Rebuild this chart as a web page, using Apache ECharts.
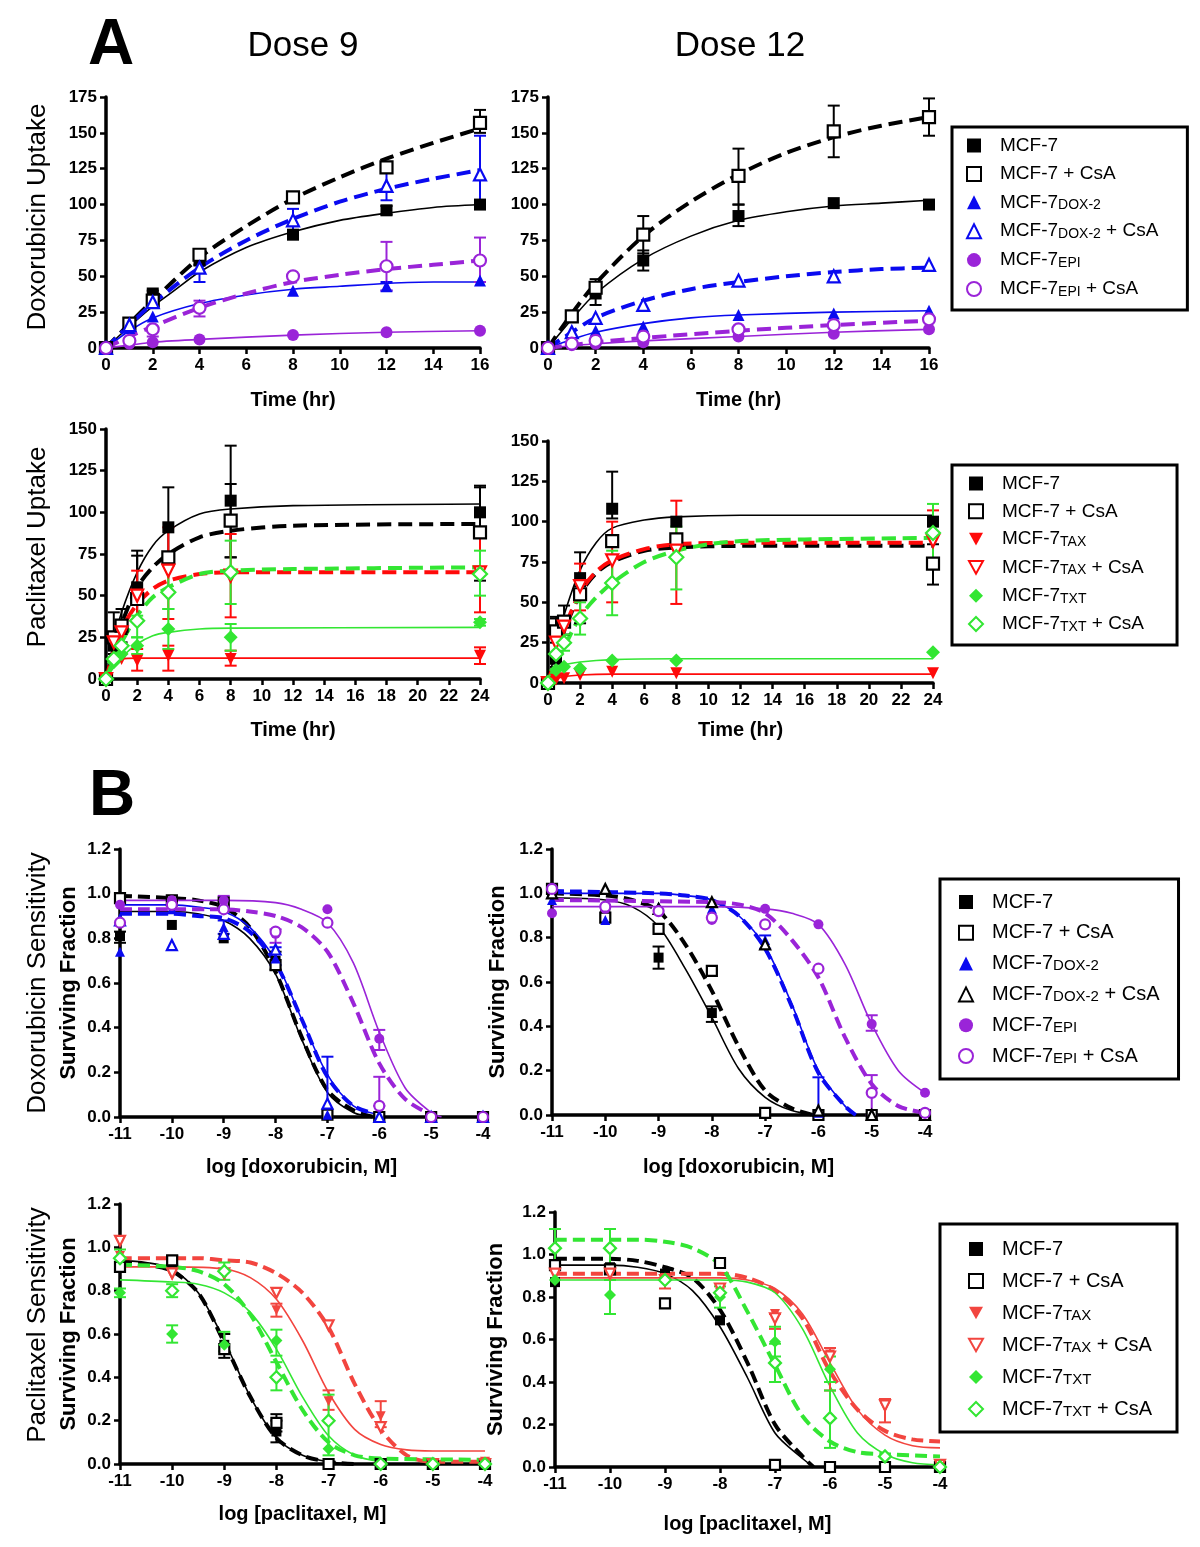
<!DOCTYPE html>
<html><head><meta charset="utf-8">
<script src="https://cdn.jsdelivr.net/npm/echarts@6/dist/echarts.min.js"></script>
<style>html,body{margin:0;padding:0;background:#fff}#c{width:1200px;height:1547px}</style>
</head><body><div id="c"></div>
<script>
// ================= DATA =================
var timeDox = [0, 1, 2, 4, 8, 12, 16];
var timePac = [0, 0.5, 1, 2, 4, 8, 24];
var logDose = [-11, -10, -9, -8, -7, -6, -5, -4];

// ---- A1: Dose 9, doxorubicin uptake ----
var A1_mcf7 = [0, 17, 38, 61, 79, 96, 100];
var A1_mcf7_err = [[2, 33, 40], [4, 58, 66], [8, 76, 82], [12, 93, 99]];
var A1_mcf7_fit = [[0, 0], [1, 15], [2, 29], [3, 41], [4, 53], [6, 70], [8, 81], [10, 89], [12, 94], [14, 98], [16, 100]];
var A1_mcf7Csa = [0, 17, 33, 65, 105, 126, 157];
var A1_mcf7Csa_err = [[12, 122, 129], [16, 150, 166]];
var A1_mcf7Csa_fit = [[0, 0], [1, 17], [2, 33], [4, 63], [6, 85], [8, 104], [10, 119], [12, 132], [14, 143], [16, 153]];
var A1_dox2 = [0, 14, 22, 30, 40, 43, 47];
var A1_dox2_err = [[12, 40, 46]];
var A1_dox2_fit = [[0, 0], [1, 12], [2, 21], [4, 31], [6, 37], [8, 41], [10, 43], [12, 45], [14, 46], [16, 46]];
var A1_dox2Csa = [0, 16, 32, 56, 89, 113, 121];
var A1_dox2Csa_err = [[4, 46, 66], [8, 80, 97], [12, 103, 125], [16, 97, 148]];
var A1_dox2Csa_fit = [[0, 0], [1, 16], [2, 31], [4, 56], [6, 75], [8, 90], [10, 102], [12, 111], [14, 118], [16, 124]];
var A1_epi = [0, 3, 4, 6, 9, 11, 12];
var A1_epi_err = [];
var A1_epi_fit = [[0, 0], [1, 2], [2, 4], [4, 6], [8, 9], [12, 11], [16, 12]];
var A1_epiCsa = [0, 5, 13, 28, 50, 57, 61];
var A1_epiCsa_err = [[2, 8, 15], [4, 22, 33], [12, 40, 74], [16, 46, 77]];
var A1_epiCsa_fit = [[0, 0], [1, 8], [2, 15], [4, 28], [6, 38], [8, 46], [10, 51], [12, 55], [14, 58], [16, 61]];

// ---- A2: Dose 12, doxorubicin uptake ----
var A2_mcf7 = [0, 22, 38, 61, 92, 101, 100];
var A2_mcf7_err = [[2, 30, 48], [4, 54, 68], [8, 85, 100]];
var A2_mcf7_fit = [[0, 0], [1, 20], [2, 38], [4, 62], [6, 78], [8, 89], [10, 95], [12, 99], [14, 101], [16, 103]];
var A2_mcf7Csa = [0, 22, 42, 79, 120, 151, 161];
var A2_mcf7Csa_err = [[4, 66, 92], [8, 100, 139], [12, 133, 169], [16, 148, 174]];
var A2_mcf7Csa_fit = [[0, 0], [1, 24], [2, 45], [4, 78], [6, 102], [8, 121], [10, 136], [12, 147], [14, 155], [16, 161]];
var A2_dox2 = [0, 9, 12, 15, 23, 24, 26];
var A2_dox2_err = [];
var A2_dox2_fit = [[0, 0], [1, 6], [2, 11], [4, 17], [6, 21], [8, 23], [12, 25], [16, 26]];
var A2_dox2Csa = [0, 11, 21, 30, 47, 50, 58];
var A2_dox2Csa_err = [];
var A2_dox2Csa_fit = [[0, 0], [1, 11], [2, 21], [4, 33], [6, 41], [8, 46], [10, 50], [12, 53], [14, 55], [16, 56]];
var A2_epi = [0, 2, 3, 4, 8, 10, 13];
var A2_epi_err = [];
var A2_epi_fit = [[0, 0], [2, 3], [4, 5], [8, 8], [12, 11], [16, 13]];
var A2_epiCsa = [0, 3, 5, 8, 13, 16, 20];
var A2_epiCsa_err = [];
var A2_epiCsa_fit = [[0, 0], [2, 4], [4, 7], [8, 12], [12, 16], [16, 19]];

// ---- A3: Dose 9, paclitaxel uptake ----
var A3_mcf7 = [0, 20, 30, 55, 91, 107, 100];
var A3_mcf7_err = [[2, 45, 77], [4, 68, 115], [8, 73, 140], [24, 85, 116]];
var A3_mcf7_fit = [[0, 0], [0.5, 22], [1, 40], [2, 64], [3, 80], [4, 89], [6, 99], [8, 102], [12, 104], [24, 105]];
var A3_mcf7Csa = [0, 25, 32, 48, 73, 95, 88];
var A3_mcf7Csa_err = [[0.5, 15, 40], [1, 22, 42], [2, 35, 74], [8, 73, 117], [24, 59, 115]];
var A3_mcf7Csa_fit = [[0, 0], [0.5, 18], [1, 33], [2, 55], [3, 67], [4, 75], [6, 85], [8, 89], [12, 92], [24, 93]];
var A3_tax = [0, 10, 12, 11, 14, 12, 14];
var A3_tax_err = [[2, 5, 18], [4, 5, 20], [8, 8, 17], [24, 9, 19]];
var A3_tax_fit = [[0, 0], [0.5, 9], [1, 12], [2, 12.5], [24, 12.5]];
var A3_taxCsa = [0, 22, 28, 50, 65, 62, 64];
var A3_taxCsa_err = [[2, 35, 65], [4, 36, 91], [8, 37, 87], [24, 40, 87]];
var A3_taxCsa_fit = [[0, 0], [0.5, 17], [1, 30], [2, 45], [3, 54], [4, 59], [6, 63], [8, 64], [24, 64]];
var A3_txt = [0, 10, 15, 20, 30, 25, 34];
var A3_txt_err = [[2, 15, 25], [4, 18, 42], [8, 17, 33], [24, 32, 36]];
var A3_txt_fit = [[0, 0], [0.5, 7], [1, 13], [2, 21], [3, 26], [4, 28], [6, 30], [8, 30.5], [24, 31]];
var A3_txtCsa = [0, 12, 20, 35, 52, 64, 63];
var A3_txtCsa_err = [[2, 25, 38], [4, 42, 70], [8, 45, 83], [24, 50, 77]];
var A3_txtCsa_fit = [[0, 0], [0.5, 12], [1, 22], [2, 38], [3, 49], [4, 55], [6, 63], [8, 65], [12, 66], [24, 67]];

// ---- A4: Dose 12, paclitaxel uptake ----
var A4_mcf7 = [0, 15, 38, 65, 108, 100, 100];
var A4_mcf7_err = [[0.5, 10, 40], [2, 53, 81], [4, 102, 131]];
var A4_mcf7_fit = [[0, 0], [0.5, 22], [1, 42], [2, 70], [3, 87], [4, 96], [6, 101], [8, 103], [12, 104], [24, 104]];
var A4_mcf7Csa = [0, 32, 38, 55, 88, 89, 74];
var A4_mcf7Csa_err = [[0.5, 25, 41], [1, 30, 48], [2, 37, 60], [24, 61, 86]];
var A4_mcf7Csa_fit = [[0, 0], [0.5, 17], [1, 32], [2, 55], [3, 68], [4, 75], [6, 82], [8, 84], [12, 85], [24, 85]];
var A4_tax = [0, 2, 3, 5, 7, 6, 6];
var A4_tax_err = [];
var A4_tax_fit = [[0, 0], [0.5, 2.5], [1, 4], [2, 5], [4, 5.5], [24, 5.5]];
var A4_taxCsa = [0, 25, 35, 60, 76, 82, 88];
var A4_taxCsa_err = [[2, 45, 74], [4, 50, 100], [8, 49, 113], [24, 75, 107]];
var A4_taxCsa_fit = [[0, 0], [0.5, 17], [1, 33], [2, 56], [3, 69], [4, 76], [6, 83], [8, 86], [12, 87], [24, 87]];
var A4_txt = [0, 8, 10, 9, 14, 14, 19];
var A4_txt_err = [];
var A4_txt_fit = [[0, 0], [0.5, 7], [1, 11], [2, 13], [4, 14.5], [8, 15], [24, 15]];
var A4_txtCsa = [0, 18, 25, 40, 62, 78, 93];
var A4_txtCsa_err = [[1, 20, 30], [2, 30, 50], [4, 42, 82], [8, 58, 97], [24, 76, 111]];
var A4_txtCsa_fit = [[0, 0], [0.5, 12], [1, 22], [2, 41], [3, 53], [4, 62], [6, 75], [8, 82], [10, 86], [12, 88], [16, 89], [24, 90]];

// ---- B1: Dose 9, doxorubicin sensitivity ----
var B1_mcf7 = [0.81, 0.86, 0.80, 0.70, 0.01, 0.0, 0.0, 0.0];
var B1_mcf7_err = [[-11, 0.78, 0.83], [-8, 0.66, 0.74]];
var B1_mcf7_fit = [[-11, 0.92], [-10, 0.92], [-9.5, 0.91], [-9, 0.88], [-8.5, 0.80], [-8, 0.64], [-7.5, 0.35], [-7, 0.11], [-6.5, 0.02], [-6.1, 0]];
var B1_mcf7Csa = [0.98, 0.97, 0.96, 0.68, 0.01, 0.0, 0.0, 0.0];
var B1_mcf7Csa_err = [];
var B1_mcf7Csa_fit = [[-11, 0.99], [-10, 0.98], [-9.5, 0.97], [-9, 0.94], [-8.5, 0.85], [-8, 0.65], [-7.5, 0.36], [-7, 0.12], [-6.5, 0.03], [-6.1, 0]];
var B1_dox2 = [0.74, 0.93, 0.85, 0.71, 0.01, 0.0, 0.0, 0.0];
var B1_dox2_err = [[-9, 0.82, 0.88], [-8, 0.68, 0.76], [-7, 0.0, 0.27]];
var B1_dox2_fit = [[-11, 0.95], [-10, 0.95], [-9.5, 0.94], [-9, 0.92], [-8.5, 0.85], [-8, 0.70], [-7.5, 0.44], [-7, 0.19], [-6.5, 0.05], [-6, 0.01]];
var B1_dox2Csa = [0.88, 0.77, 0.82, 0.75, 0.06, 0.0, 0.0, 0.0];
var B1_dox2Csa_err = [];
var B1_dox2Csa_fit = [[-11, 0.91], [-10, 0.91], [-9.5, 0.90], [-9, 0.89], [-8.5, 0.83], [-8, 0.69], [-7.5, 0.44], [-7, 0.18], [-6.5, 0.05], [-6, 0.01]];
var B1_epi = [0.95, 0.97, 0.97, 0.82, 0.93, 0.35, 0.0, 0.0];
var B1_epi_err = [[-10, 0.95, 0.99], [-9, 0.95, 0.99], [-8, 0.78, 0.84], [-6, 0.30, 0.39]];
var B1_epi_fit = [[-11, 0.97], [-9, 0.97], [-8, 0.96], [-7.5, 0.93], [-7, 0.87], [-6.5, 0.69], [-6, 0.38], [-5.5, 0.13], [-5, 0.02], [-4.8, 0]];
var B1_epiCsa = [0.87, 0.95, 0.93, 0.83, 0.87, 0.05, 0.0, 0.0];
var B1_epiCsa_err = [[-6, 0.05, 0.18]];
var B1_epiCsa_fit = [[-11, 0.93], [-9, 0.93], [-8.5, 0.92], [-8, 0.90], [-7.5, 0.85], [-7, 0.74], [-6.5, 0.51], [-6, 0.24], [-5.5, 0.08], [-5, 0.01]];

// ---- B2: Dose 12, doxorubicin sensitivity ----
var B2_mcf7 = [1.0, 0.93, 0.71, 0.46, 0.01, 0.0, 0.0, 0.0];
var B2_mcf7_err = [[-9, 0.66, 0.76], [-8, 0.42, 0.49]];
var B2_mcf7_fit = [[-11, 0.98], [-10, 0.97], [-9.5, 0.94], [-9, 0.85], [-8.5, 0.66], [-8, 0.44], [-7.5, 0.21], [-7, 0.08], [-6.5, 0.02], [-6, 0]];
var B2_mcf7Csa = [1.02, 0.89, 0.84, 0.65, 0.01, 0.0, 0.0, 0.0];
var B2_mcf7Csa_err = [];
var B2_mcf7Csa_fit = [[-11, 1.0], [-10, 0.99], [-9.5, 0.97], [-9, 0.92], [-8.5, 0.77], [-8, 0.56], [-7.5, 0.31], [-7, 0.11], [-6.5, 0.03], [-6.1, 0]];
var B2_dox2 = [0.97, 0.88, 0.94, 0.93, 0.79, 0.01, 0.0, 0.0];
var B2_dox2_err = [[-7, 0.75, 0.81], [-6, 0.0, 0.17]];
var B2_dox2_fit = [[-11, 1.0], [-9, 1.0], [-8.5, 0.99], [-8, 0.97], [-7.5, 0.90], [-7, 0.76], [-6.5, 0.50], [-6, 0.20], [-5.5, 0.04], [-5.3, 0]];
var B2_dox2Csa = [1.0, 1.02, 0.93, 0.96, 0.77, 0.02, 0.0, 0.0];
var B2_dox2Csa_err = [];
var B2_dox2Csa_fit = [[-11, 1.01], [-9, 1.0], [-8.5, 0.99], [-8, 0.97], [-7.5, 0.90], [-7, 0.75], [-6.5, 0.49], [-6, 0.19], [-5.5, 0.04], [-5.3, 0]];
var B2_epi = [0.91, 0.93, 0.92, 0.88, 0.93, 0.86, 0.41, 0.10];
var B2_epi_err = [[-5, 0.38, 0.45]];
var B2_epi_fit = [[-11, 0.94], [-8, 0.94], [-7, 0.93], [-6.5, 0.91], [-6, 0.86], [-5.5, 0.68], [-5, 0.41], [-4.5, 0.20], [-4, 0.10]];
var B2_epiCsa = [1.02, 0.94, 0.92, 0.89, 0.86, 0.66, 0.10, 0.01];
var B2_epiCsa_err = [[-5, 0.0, 0.18]];
var B2_epiCsa_fit = [[-11, 0.97], [-8, 0.96], [-7.5, 0.95], [-7, 0.91], [-6.5, 0.79], [-6, 0.62], [-5.5, 0.35], [-5, 0.14], [-4.5, 0.04], [-4, 0.01]];

// ---- B3: Dose 9, paclitaxel sensitivity ----
var B3_mcf7 = [0.91, 0.93, 0.55, 0.15, 0.0, 0.0, 0.0, 0.0];
var B3_mcf7_err = [[-9, 0.49, 0.60], [-8, 0.10, 0.20]];
var B3_mcf7_fit = [[-11, 0.94], [-10.5, 0.93], [-10, 0.90], [-9.5, 0.79], [-9, 0.57], [-8.5, 0.31], [-8, 0.12], [-7.5, 0.04], [-7, 0.01], [-6.5, 0]];
var B3_mcf7Csa = [0.91, 0.94, 0.53, 0.19, 0.0, 0.0, 0.0, 0.0];
var B3_mcf7Csa_err = [[-10, 0.92, 0.96], [-8, 0.15, 0.23]];
var B3_mcf7Csa_fit = [[-11, 0.93], [-10.5, 0.92], [-10, 0.89], [-9.5, 0.79], [-9, 0.56], [-8.5, 0.31], [-8, 0.12], [-7.5, 0.04], [-7, 0.01], [-6.5, 0]];
var B3_tax = [0.96, 0.87, 0.87, 0.71, 0.29, 0.22, 0.0, 0.01];
var B3_tax_err = [[-8, 0.68, 0.74], [-7, 0.25, 0.34], [-6, 0.17, 0.29]];
var B3_tax_fit = [[-11, 0.91], [-10, 0.91], [-9, 0.90], [-8.5, 0.86], [-8, 0.76], [-7.5, 0.57], [-7, 0.33], [-6.5, 0.16], [-6, 0.09], [-5.5, 0.065], [-5, 0.06], [-4, 0.06]];
var B3_taxCsa = [1.03, 0.88, 0.88, 0.79, 0.64, 0.17, 0.0, 0.0];
var B3_taxCsa_err = [];
var B3_taxCsa_fit = [[-11, 0.95], [-9.5, 0.95], [-9, 0.94], [-8.5, 0.93], [-8, 0.88], [-7.5, 0.79], [-7, 0.63], [-6.5, 0.37], [-6, 0.16], [-5.5, 0.04], [-5, 0.01], [-4, 0.01]];
var B3_txt = [0.79, 0.60, 0.55, 0.57, 0.07, 0.0, 0.0, 0.0];
var B3_txt_err = [[-11, 0.77, 0.81], [-10, 0.56, 0.64], [-9, 0.52, 0.61], [-8, 0.50, 0.62]];
var B3_txt_fit = [[-11, 0.85], [-10, 0.84], [-9.5, 0.83], [-9, 0.79], [-8.5, 0.70], [-8, 0.53], [-7.5, 0.31], [-7, 0.13], [-6.5, 0.04], [-6, 0.01]];
var B3_txtCsa = [0.95, 0.80, 0.89, 0.40, 0.20, 0.0, 0.0, 0.0];
var B3_txtCsa_err = [[-11, 0.90, 0.99], [-10, 0.77, 0.83], [-9, 0.85, 0.93], [-8, 0.34, 0.47], [-7, 0.04, 0.32]];
var B3_txtCsa_fit = [[-11, 0.92], [-10, 0.91], [-9.5, 0.89], [-9, 0.83], [-8.5, 0.69], [-8, 0.47], [-7.5, 0.25], [-7, 0.10], [-6.5, 0.04], [-6, 0.025], [-4, 0.02]];

// ---- B4: Dose 12, paclitaxel sensitivity ----
var B4_mcf7 = [0.87, 0.94, 0.91, 0.69, 0.01, 0.0, 0.0, 0.0];
var B4_mcf7_err = [];
var B4_mcf7_fit = [[-11, 0.95], [-10, 0.95], [-9.5, 0.94], [-9, 0.91], [-8.5, 0.83], [-8, 0.66], [-7.5, 0.42], [-7, 0.16], [-6.5, 0.04], [-6.3, 0]];
var B4_mcf7Csa = [0.95, 0.93, 0.77, 0.96, 0.01, 0.0, 0.0, 0.0];
var B4_mcf7Csa_err = [];
var B4_mcf7Csa_fit = [[-11, 0.98], [-10, 0.98], [-9.5, 0.97], [-9, 0.94], [-8.5, 0.89], [-8, 0.74], [-7.5, 0.49], [-7, 0.20], [-6.5, 0.05], [-6.3, 0]];
var B4_tax = [0.90, 0.90, 0.89, 0.82, 0.72, 0.53, 0.28, 0.0];
var B4_tax_err = [[-9, 0.84, 0.89], [-7, 0.65, 0.72], [-6, 0.36, 0.56], [-5, 0.21, 0.32]];
var B4_tax_fit = [[-11, 0.89], [-8, 0.89], [-7.5, 0.88], [-7, 0.84], [-6.5, 0.72], [-6, 0.49], [-5.5, 0.27], [-5, 0.15], [-4.5, 0.10], [-4, 0.09]];
var B4_taxCsa = [0.91, 0.91, 0.88, 0.84, 0.70, 0.52, 0.29, 0.01];
var B4_taxCsa_err = [];
var B4_taxCsa_fit = [[-11, 0.91], [-8, 0.91], [-7.5, 0.89], [-7, 0.83], [-6.5, 0.70], [-6, 0.45], [-5.5, 0.27], [-5, 0.17], [-4.5, 0.13], [-4, 0.12]];
var B4_txt = [0.88, 0.81, 0.88, 0.80, 0.59, 0.46, 0.05, 0.0];
var B4_txt_err = [[-10, 0.72, 0.88], [-8, 0.75, 0.85], [-7, 0.52, 0.66], [-6, 0.40, 0.52]];
var B4_txt_fit = [[-11, 0.88], [-8, 0.88], [-7.5, 0.87], [-7, 0.82], [-6.5, 0.65], [-6, 0.38], [-5.5, 0.16], [-5, 0.06], [-4.5, 0.02], [-4, 0.01]];
var B4_txtCsa = [1.03, 1.03, 0.88, 0.82, 0.49, 0.23, 0.05, 0.0];
var B4_txtCsa_err = [[-11, 0.95, 1.12], [-10, 0.95, 1.12], [-7, 0.40, 0.58], [-6, 0.09, 0.36]];
var B4_txtCsa_fit = [[-11, 1.07], [-9.5, 1.07], [-9, 1.06], [-8.5, 1.03], [-8, 0.95], [-7.5, 0.73], [-7, 0.48], [-6.5, 0.24], [-6, 0.12], [-5.5, 0.07], [-5, 0.06], [-4, 0.05]];

// text
var LABELS = {
  mcf7: '{n|MCF-7}', mcf7Csa: '{n|MCF-7 + CsA}',
  dox2: '{n|MCF-7}{s|DOX-2}', dox2Csa: '{n|MCF-7}{s|DOX-2}{n| + CsA}',
  epi: '{n|MCF-7}{s|EPI}', epiCsa: '{n|MCF-7}{s|EPI}{n| + CsA}',
  tax: '{n|MCF-7}{s|TAX}', taxCsa: '{n|MCF-7}{s|TAX}{n| + CsA}',
  txt: '{n|MCF-7}{s|TXT}', txtCsa: '{n|MCF-7}{s|TXT}{n| + CsA}'
};

// ================= STYLE / LAYOUT =================
var FONT = "'Liberation Sans', Arial, Helvetica, sans-serif";
var BLACK = '#000000', BLUE = '#0a0af0', PURPLE = '#9a24d8', RED = '#ff0a0a', REDB = '#f2453f', GREEN = '#33e633';
var SYM = { sq: 'rect', tri: 'triangle', dtri: 'path://M0,0L10,0L5,9Z', dia: 'diamond', cir: 'circle' };
var SIZES = {
  A: { sym: 12, dashW: 4, dash: [14, 7], solidW: 1.6, cap: 6, errW: 2 },
  B: { sym: 10, dashW: 4, dash: [12, 6], solidW: 1.6, cap: 6, errW: 2 }
};
var GRIDS = [
  { left: 106, top: 97, width: 374, height: 251 },
  { left: 548, top: 97, width: 381, height: 251 },
  { left: 106, top: 429, width: 374, height: 250 },
  { left: 548, top: 441, width: 385, height: 242 },
  { left: 120, top: 849, width: 363, height: 268 },
  { left: 552, top: 849, width: 373, height: 266 },
  { left: 120, top: 1204, width: 365, height: 260 },
  { left: 555, top: 1212, width: 385, height: 255 }
];

function pick(p, k) {
  return { ys: window[p + '_' + k], err: window[p + '_' + k + '_err'] || [], fit: window[p + '_' + k + '_fit'] };
}
function doxSet(p, c2b) {
  return [
    { k: 'mcf7', c: BLACK, sym: 'sq', open: false, dash: false },
    { k: 'mcf7Csa', c: BLACK, sym: 'sq', open: true, dash: true },
    { k: 'dox2', c: BLUE, sym: 'tri', open: false, dash: false },
    { k: 'dox2Csa', c: c2b || BLUE, lc: BLUE, sym: 'tri', open: true, dash: true },
    { k: 'epi', c: PURPLE, sym: 'cir', open: false, dash: false },
    { k: 'epiCsa', c: PURPLE, sym: 'cir', open: true, dash: true }
  ].map(s => Object.assign(s, pick(p, s.k)));
}
function pacSet(p, red) {
  return [
    { k: 'mcf7', c: BLACK, sym: 'sq', open: false, dash: false },
    { k: 'mcf7Csa', c: BLACK, sym: 'sq', open: true, dash: true },
    { k: 'tax', c: red, sym: 'dtri', open: false, dash: false },
    { k: 'taxCsa', c: red, sym: 'dtri', open: true, dash: true },
    { k: 'txt', c: GREEN, sym: 'dia', open: false, dash: false },
    { k: 'txtCsa', c: GREEN, sym: 'dia', open: true, dash: true }
  ].map(s => Object.assign(s, pick(p, s.k)));
}

var PANELS = [
  { id: 'A1', xs: timeDox, sz: 'A', set: doxSet('A1') },
  { id: 'A2', xs: timeDox, sz: 'A', set: doxSet('A2') },
  { id: 'A3', xs: timePac, sz: 'A', set: pacSet('A3', RED) },
  { id: 'A4', xs: timePac, sz: 'A', set: pacSet('A4', RED) },
  { id: 'B1', xs: logDose, sz: 'B', set: doxSet('B1') },
  { id: 'B2', xs: logDose, sz: 'B', set: doxSet('B2', BLACK) },
  { id: 'B3', xs: logDose, sz: 'B', set: pacSet('B3', REDB) },
  { id: 'B4', xs: logDose, sz: 'B', set: pacSet('B4', REDB) }
];

var AXIS_X = [
  { min: 0, max: 16, interval: 2, name: 'Time (hr)', gap: 42 },
  { min: 0, max: 16, interval: 2, name: 'Time (hr)', gap: 42 },
  { min: 0, max: 24, interval: 2, name: 'Time (hr)', gap: 41 },
  { min: 0, max: 24, interval: 2, name: 'Time (hr)', gap: 37 },
  { min: -11, max: -4, interval: 1, name: 'log [doxorubicin, M]', gap: 40 },
  { min: -11, max: -4, interval: 1, name: 'log [doxorubicin, M]', gap: 42 },
  { min: -11, max: -4, interval: 1, name: 'log [paclitaxel, M]', gap: 40 },
  { min: -11, max: -4, interval: 1, name: 'log [paclitaxel, M]', gap: 47 }
];
var AXIS_Y = [
  { min: 0, max: 175, interval: 25 },
  { min: 0, max: 175, interval: 25 },
  { min: 0, max: 150, interval: 25 },
  { min: 0, max: 150, interval: 25 },
  { min: 0, max: 1.2, interval: 0.2, name: 'Surviving Fraction', gap: 40 },
  { min: 0, max: 1.2, interval: 0.2, name: 'Surviving Fraction', gap: 43 },
  { min: 0, max: 1.2, interval: 0.2, name: 'Surviving Fraction', gap: 40 },
  { min: 0, max: 1.2, interval: 0.2, name: 'Surviving Fraction', gap: 48 }
];

function axisCommon() {
  return {
    axisLine: { show: true, onZero: false, lineStyle: { color: '#000', width: 3.5 } },
    axisTick: { show: true, length: 6, lineStyle: { color: '#000', width: 2.5 } },
    splitLine: { show: false },
    axisLabel: { color: '#000', fontFamily: FONT, fontWeight: 'bold', fontSize: 17, margin: 9 }
  };
}

var xAxis = AXIS_X.map((a, i) => Object.assign(axisCommon(), {
  type: 'value', gridIndex: i, min: a.min, max: a.max, interval: a.interval,
  name: a.name, nameLocation: 'middle', nameGap: a.gap,
  nameTextStyle: { color: '#000', fontFamily: FONT, fontWeight: 'bold', fontSize: 20 }
}));
var yAxis = AXIS_Y.map((a, i) => {
  const o = Object.assign(axisCommon(), {
    type: 'value', gridIndex: i, min: a.min, max: a.max, interval: a.interval
  });
  if (a.name) {
    o.name = a.name; o.nameLocation = 'middle'; o.nameGap = a.gap; o.nameRotate = 90;
    o.nameTextStyle = { color: '#000', fontFamily: FONT, fontWeight: 'bold', fontSize: 22 };
    o.axisLabel.formatter = v => v.toFixed(1);
  }
  return o;
});

var series = [];
PANELS.forEach((p, gi) => {
  const sz = SIZES[p.sz];
  p.set.forEach(s => {
    const lineColor = s.lc || s.c;
    series.push({
      type: 'line', name: p.id + '-fit-' + s.k, xAxisIndex: gi, yAxisIndex: gi,
      data: s.fit, smooth: 0.3, symbol: 'none', silent: true, z: 2,
      lineStyle: { color: lineColor, width: s.dash ? sz.dashW : sz.solidW, type: s.dash ? sz.dash : 'solid' }
    });
    if (s.err.length) {
      series.push({
        type: 'custom', name: p.id + '-err-' + s.k, xAxisIndex: gi, yAxisIndex: gi, z: 3, silent: true,
        data: s.err, encode: { x: 0, y: [1, 2] },
        renderItem: function (params, api) {
          const x = api.value(0), lo = api.value(1), hi = api.value(2);
          const a = api.coord([x, lo]), b = api.coord([x, hi]);
          const st = { stroke: lineColor, lineWidth: sz.errW };
          return { type: 'group', children: [
            { type: 'line', shape: { x1: a[0], y1: a[1], x2: b[0], y2: b[1] }, style: st },
            { type: 'line', shape: { x1: a[0] - sz.cap, y1: a[1], x2: a[0] + sz.cap, y2: a[1] }, style: st },
            { type: 'line', shape: { x1: b[0] - sz.cap, y1: b[1], x2: b[0] + sz.cap, y2: b[1] }, style: st }
          ] };
        }
      });
    }
    series.push({
      type: 'scatter', name: p.id + '|' + s.k, xAxisIndex: gi, yAxisIndex: gi, z: 4,
      data: p.xs.map((x, i) => [x, s.ys[i]]),
      symbol: SYM[s.sym], symbolSize: s.sym === 'dia' ? sz.sym + 2 : sz.sym,
      itemStyle: s.open
        ? { color: '#ffffff', borderColor: s.c, borderWidth: 2.2, opacity: 1 }
        : { color: s.c, borderWidth: 0, opacity: 1 }
    });
  });
});

function legendFor(pid, keys, pos, gap, fs) {
  return {
    orient: 'vertical', left: pos.left, top: pos.top, selectedMode: false,
    padding: pos.padding, itemGap: gap, itemWidth: 14, itemHeight: 14,
    borderColor: '#000', borderWidth: 3, backgroundColor: '#fff',
    data: keys.map(k => pid + '|' + k),
    formatter: name => LABELS[name.split('|')[1]],
    textStyle: {
      padding: [0, 0, 0, 14], color: '#000', fontFamily: FONT, fontSize: fs,
      rich: {
        n: { fontFamily: FONT, fontSize: fs, color: '#000', lineHeight: 20 },
        s: { fontFamily: FONT, fontSize: fs - 5, color: '#000', lineHeight: 10, verticalAlign: 'bottom' }
      }
    }
  };
}
var DOXK = ['mcf7', 'mcf7Csa', 'dox2', 'dox2Csa', 'epi', 'epiCsa'];
var PACK = ['mcf7', 'mcf7Csa', 'tax', 'taxCsa', 'txt', 'txtCsa'];
var legend = [
  legendFor('A1', DOXK, { left: 952, top: 127, padding: [9, 29, 11, 14] }, 9.4, 19),
  legendFor('A3', PACK, { left: 952, top: 465, padding: [9, 33, 11, 16] }, 8.8, 19),
  legendFor('B2', DOXK, { left: 940, top: 879, padding: [13, 19, 13, 18] }, 10.8, 20),
  legendFor('B3', PACK, { left: 940, top: 1224, padding: [15, 25, 13, 28] }, 12, 20)
];

function txt(text, x, y, font, rot) {
  return { type: 'text', x: x, y: y, rotation: rot || 0, silent: true,
    style: { text: text, font: font, fill: '#000', textAlign: 'center', textVerticalAlign: 'middle', align: 'center', verticalAlign: 'middle' } };
}
var graphic = [
  txt('A', 111, 46, 'bold 64px ' + FONT),
  txt('Dose 9', 303, 46, '35px ' + FONT),
  txt('Dose 12', 740, 46, '35px ' + FONT),
  txt('B', 112, 797, 'bold 64px ' + FONT),
  txt('Doxorubicin Uptake', 38, 217, '26px ' + FONT, Math.PI / 2),
  txt('Paclitaxel Uptake', 38, 547, '26px ' + FONT, Math.PI / 2),
  txt('Doxorubicin Sensitivity', 38, 983, '26px ' + FONT, Math.PI / 2),
  txt('Paclitaxel Sensitivity', 38, 1325, '26px ' + FONT, Math.PI / 2)
];

var chart = echarts.init(document.getElementById('c'), null, { renderer: 'canvas' });
chart.setOption({
  animation: false, backgroundColor: '#fff',
  textStyle: { fontFamily: FONT },
  grid: GRIDS.map(g => Object.assign({ containLabel: false }, g)),
  xAxis: xAxis, yAxis: yAxis, series: series, legend: legend, graphic: graphic
});
</script>
</body></html>
